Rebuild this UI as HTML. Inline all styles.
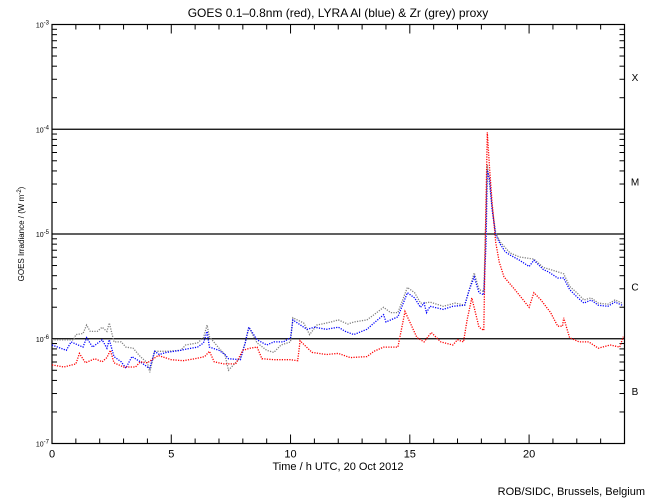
<!DOCTYPE html>
<html><head><meta charset="utf-8">
<style>
html,body{margin:0;padding:0;background:#fff;}
svg{display:block;font-family:"Liberation Sans",sans-serif;}
</style></head>
<body>
<svg id="chart" width="650" height="500" viewBox="0 0 650 500">
<rect width="650" height="500" fill="#fff"/>
<text x="338" y="17" text-anchor="middle" font-size="12">GOES 0.1–0.8nm (red), LYRA Al (blue) &amp; Zr (grey) proxy</text>
<g id="axes"></g>
<g id="series"></g>
<text x="338" y="470" text-anchor="middle" font-size="11">Time / h UTC, 20 Oct 2012</text>
<text transform="translate(24,234) rotate(-90)" text-anchor="middle" font-size="8">GOES Irradiance / (W m<tspan dy="-3" font-size="6">-2</tspan><tspan dy="3">)</tspan></text>
<text x="645" y="495" text-anchor="end" font-size="11">ROB/SIDC, Brussels, Belgium</text>
</svg>
<script>
const xTicks = [0,5,10,15,20];
const decades = [-7,-6,-5,-4,-3];
const classes = ["B","C","M","X"];
const classLines = [-6,-5,-4];

const redHours = [0,0.5,1,1.15,1.4,1.8,2.1,2.3,2.45,2.6,3,3.5,3.7,4,4.45,4.6,5,5.5,6,6.4,6.6,6.8,7.2,7.7,8,8.3,8.6,8.8,9.3,10,10.3,10.4,10.9,11.5,12,12.5,13.2,13.5,13.9,14.5,14.8,15.3,15.6,15.9,16.3,16.8,17,17.25,17.4,17.6,17.9,18.1,18.15,18.25,18.35,18.45,18.6,18.75,18.95,19.4,20,20.2,20.5,20.9,21.2,21.4,21.45,21.7,22.1,22.5,22.9,23.4,23.8,23.95];
const redLog = [-6.25,-6.27,-6.24,-6.14,-6.23,-6.19,-6.22,-6.18,-6.11,-6.23,-6.27,-6.27,-6.22,-6.23,-6.16,-6.17,-6.20,-6.21,-6.19,-6.17,-6.12,-6.22,-6.24,-6.24,-6.11,-6.09,-6.08,-6.19,-6.20,-6.20,-6.21,-6.02,-6.13,-6.15,-6.14,-6.18,-6.17,-6.12,-6.08,-6.08,-5.74,-5.99,-6.03,-5.94,-6.03,-6.06,-6.01,-6.03,-5.82,-5.61,-5.89,-5.92,-5.22,-4.03,-4.39,-4.70,-5.08,-5.27,-5.41,-5.53,-5.70,-5.56,-5.63,-5.75,-5.88,-5.88,-5.80,-5.99,-6.03,-6.03,-6.09,-6.06,-6.08,-5.98];

const blueHours = [0,0.6,0.8,1.3,1.45,1.7,2.1,2.3,2.4,2.6,2.9,3.1,3.35,3.7,4,4.1,4.3,4.5,4.8,5.4,5.6,6.1,6.35,6.5,6.6,7,7.25,7.4,7.9,8.1,8.25,8.6,9,9.3,9.7,10,10.1,10.55,10.7,11,11.5,12,12.3,12.65,13.2,13.5,13.9,14,14.5,14.9,15.2,15.45,15.6,15.7,15.85,16.4,16.8,17.3,17.5,17.7,17.9,18.1,18.2,18.25,18.35,18.45,18.6,18.8,19,19.2,19.6,20,20.2,20.6,20.8,21.2,21.45,21.7,22,22.3,22.6,22.9,23.3,23.6,23.9];
const blueLog = [-6.06,-6.11,-6.03,-6.08,-5.99,-6.08,-6.01,-6.09,-6.01,-6.17,-6.22,-6.28,-6.17,-6.22,-6.27,-6.28,-6.12,-6.15,-6.13,-6.11,-6.10,-6.08,-6.04,-5.93,-6.08,-6.11,-6.15,-6.19,-6.20,-6.04,-5.89,-6.01,-6.06,-6.03,-6.03,-5.99,-5.82,-5.89,-5.91,-5.89,-5.91,-5.89,-5.93,-5.96,-5.91,-5.85,-5.77,-5.84,-5.79,-5.56,-5.61,-5.70,-5.66,-5.75,-5.69,-5.72,-5.69,-5.68,-5.53,-5.41,-5.56,-5.58,-5.08,-4.39,-4.48,-4.77,-5.01,-5.10,-5.17,-5.20,-5.25,-5.31,-5.25,-5.34,-5.36,-5.42,-5.42,-5.53,-5.60,-5.66,-5.63,-5.68,-5.69,-5.65,-5.68];

const greyHours = [0,0.9,1,1.3,1.45,1.6,1.9,2.1,2.3,2.4,2.6,2.9,3.1,3.4,3.7,4,4.1,4.3,4.8,5.4,5.6,6.1,6.35,6.5,6.6,7,7.25,7.4,7.9,8.1,8.25,8.6,9,9.3,9.6,10,10.1,10.55,10.8,11.1,11.7,12,12.4,12.65,13.2,13.5,13.9,14.2,14.5,14.9,15.2,15.45,15.6,15.85,16.4,16.9,17.3,17.7,17.9,18.1,18.25,18.45,18.6,18.8,19.2,19.6,20.2,20.6,20.9,21.45,21.7,22,22.3,22.6,22.9,23.3,23.6,23.9];
const greyLog = [-6.01,-6.01,-5.96,-5.95,-5.87,-5.93,-5.93,-5.89,-5.93,-5.85,-6.03,-6.03,-6.08,-6.09,-6.17,-6.23,-6.32,-6.12,-6.12,-6.11,-6.06,-6.04,-5.99,-5.87,-5.98,-6.09,-6.15,-6.30,-6.18,-6.04,-5.89,-6.04,-6.11,-6.13,-6.06,-6.03,-5.80,-5.85,-5.96,-5.87,-5.84,-5.82,-5.86,-5.84,-5.82,-5.77,-5.70,-5.75,-5.75,-5.51,-5.56,-5.66,-5.66,-5.65,-5.69,-5.66,-5.68,-5.37,-5.53,-5.55,-4.34,-4.74,-4.99,-5.08,-5.18,-5.22,-5.24,-5.32,-5.34,-5.38,-5.50,-5.56,-5.63,-5.61,-5.66,-5.67,-5.63,-5.66];

const NS = "http://www.w3.org/2000/svg";
const L = 52, R = 624.5, T = 24.5, B = 443.5;
const xScale = h => L + (R - L) * h / 24;
const yScale = lg => B - (B - T) * (lg + 7) / 4;

function mk(tag, attrs, parent) {
  const e = document.createElementNS(NS, tag);
  for (const k in attrs) e.setAttribute(k, attrs[k]);
  parent.appendChild(e);
  return e;
}
const axes = document.getElementById('axes');
const frame = mk('rect', {x:L, y:T, width:R-L, height:B-T, fill:'none', stroke:'#000', 'stroke-width':1.2}, axes);



for (let h = 0; h <= 24; h++) {
  const x = xScale(h);
  const len = (h % 5 === 0) ? 9 : 5;
  const t1 = mk('line', {x1:x, x2:x, y1:B, y2:B-len, stroke:'#000'}, axes);
  
  
  const t2 = mk('line', {x1:x, x2:x, y1:T, y2:T+len, stroke:'#000'}, axes);
  
  
}
xTicks.forEach(h => {
  const t = mk('text', {x:xScale(h), y:B+14, 'text-anchor':'middle', 'font-size':11}, axes);
  t.textContent = String(h);
  
  
});
decades.forEach(d => {
  if (d < -3) {
    for (let m = 2; m <= 9; m++) {
      const y = yScale(d + Math.log10(m));
      const a = mk('line', {x1:L, x2:L+5, y1:y, y2:y, stroke:'#000'}, axes);
      
      
      const b = mk('line', {x1:R, x2:R-5, y1:y, y2:y, stroke:'#000'}, axes);
      
      
    }
  }
  const y = yScale(d);
  const lab = mk('text', {x:L-3, y:y+3, 'text-anchor':'end', 'font-size':7}, axes);
  lab.innerHTML = '10<tspan dy="-3" font-size="6">' + d + '</tspan>';
  
  
});
classLines.forEach(d => {
  const y = yScale(d);
  const ln = mk('line', {x1:L, x2:R, y1:y, y2:y, stroke:'#000', 'stroke-width':1.2}, axes);
  
  
});
classes.forEach((c, i) => {
  const t = mk('text', {x:635, y:yScale(-7 + i + 0.5)+4, 'text-anchor':'middle', 'font-size':10}, axes);
  t.textContent = c;
  
  
});

const series = document.getElementById('series');
function drawSeries(hours, vals, color, name) {
  const pts = hours.map((h, i) => xScale(h).toFixed(1) + ',' + yScale(vals[i]).toFixed(1)).join(' ');
  const pl = mk('polyline', {points:pts, fill:'none', stroke:color, 'stroke-width':1.3, 'stroke-dasharray':'1.2 1.3'}, series);
  
  
}
drawSeries(greyHours, greyLog, '#808080', 'zr-proxy-series');
drawSeries(blueHours, blueLog, '#0000ff', 'al-proxy-series');
drawSeries(redHours, redLog, '#ff0000', 'goes-series');
</script>
</body></html>
